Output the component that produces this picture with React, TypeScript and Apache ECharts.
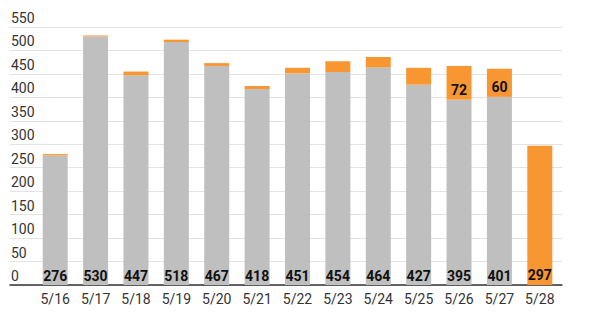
import React, { useEffect, useRef } from "react";
import * as echarts from "echarts";

const categories = ["5/16", "5/17", "5/18", "5/19", "5/20", "5/21", "5/22", "5/23", "5/24", "5/25", "5/26", "5/27", "5/28"];
const grayValues = [276, 530, 447, 518, 467, 418, 451, 454, 464, 427, 395, 401, 0];
const orangeValues = [3, 2, 8, 5, 6, 6, 12, 23, 22, 36, 72, 60, 297];
const orangeLabelShown = [false, false, false, false, false, false, false, false, false, false, true, true, true];
const yMax = 550;
const yInterval = 50;

export default function App() {
  const ref = useRef<HTMLDivElement>(null);
  useEffect(() => {
    if (!ref.current) return;
    const chart = echarts.init(ref.current, undefined, { renderer: "svg" });
    const font = "Roboto, 'Noto Sans', sans-serif";
    chart.setOption({
      animation: false,
      textStyle: { fontFamily: font },
      grid: [
        { left: 35, right: 40, top: 27, bottom: 30 },
        { left: 10, right: 38, top: 27, bottom: 30 },
      ],
      xAxis: [
        {
          type: "category",
          gridIndex: 0,
          data: categories,
          axisLine: { show: false },
          axisTick: { show: false },
          axisLabel: { color: "#333", fontSize: 14, margin: 7, fontFamily: font },
        },
        {
          type: "value",
          gridIndex: 1,
          min: 0,
          max: 1,
          axisLine: { show: true, lineStyle: { color: "#333", width: 1.5 } },
          axisTick: { show: false },
          axisLabel: { show: false },
          splitLine: { show: false },
        },
      ],
      yAxis: [
        { type: "value", gridIndex: 0, min: 0, max: yMax, interval: yInterval, show: false },
        {
          type: "value",
          gridIndex: 1,
          min: 0,
          max: yMax,
          interval: yInterval,
          axisLine: { show: false },
          axisTick: { show: false },
          splitLine: { show: true, lineStyle: { color: "#e3e3e3", width: 1 } },
          axisLabel: {
            inside: true,
            margin: 1,
            align: "left",
            verticalAlign: "bottom",
            padding: [0, 0, 2, 0],
            color: "#333",
            fontSize: 14,
            fontFamily: font,
          },
        },
      ],
      series: [
        {
          type: "bar",
          xAxisIndex: 0,
          yAxisIndex: 0,
          stack: "total",
          barWidth: 25,
          data: grayValues.map((v) => ({ value: v, label: { show: v > 0 } })),
          itemStyle: { color: "#bfbfbf" },
          label: {
            show: true,
            position: "insideBottom",
            distance: 2,
            color: "#111",
            fontWeight: "bold",
            fontSize: 14,
            fontFamily: font,
          },
        },
        {
          type: "bar",
          xAxisIndex: 0,
          yAxisIndex: 0,
          stack: "total",
          barWidth: 25,
          data: orangeValues.map((v, i) => ({ value: v, label: { show: orangeLabelShown[i] } })),
          itemStyle: { color: "#f89632" },
          label: {
            show: true,
            position: "insideBottom",
            distance: 3,
            color: "#111",
            fontWeight: "bold",
            fontSize: 14,
            fontFamily: font,
          },
        },
      ],
    });
    return () => chart.dispose();
  }, []);
  return <div ref={ref} style={{ width: 600, height: 315, position: "absolute", left: 0, top: 0 }} />;
}
